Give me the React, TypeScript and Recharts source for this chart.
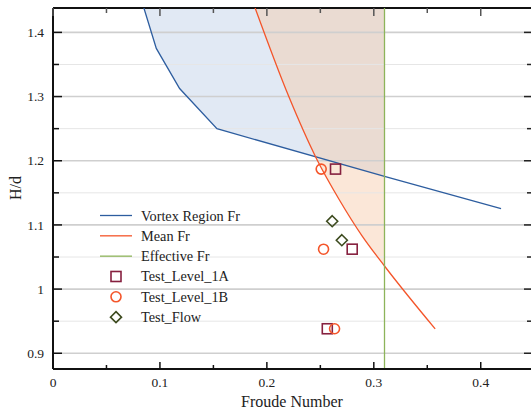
import { ComposedChart, Line, Area, Scatter, XAxis, YAxis, ReferenceLine, Legend } from 'recharts'

const X_MAX = 0.447
const Y_MIN = 0.8755
const Y_MAX = 1.438
const EFFECTIVE_FR = 0.31

const xTicks = [0, 0.05, 0.1, 0.15, 0.2, 0.25, 0.3, 0.35, 0.4]
const yTicks = [0.9, 0.95, 1, 1.05, 1.1, 1.15, 1.2, 1.25, 1.3, 1.35, 1.4]
const majorGrid = [0.9, 1, 1.1, 1.2, 1.3, 1.4]
const minorGrid = [0.95, 1.05, 1.15, 1.25, 1.35]

const vortexFr = [
  { x: 0.085, y: 1.438 },
  { x: 0.0966, y: 1.375 },
  { x: 0.1184, y: 1.3125 },
  { x: 0.1533, y: 1.25 },
  { x: 0.31, y: 1.1755 },
  { x: 0.419, y: 1.1255 },
]

const meanFr = [
  { x: 0.189, y: 1.438 },
  { x: 0.2205, y: 1.3 },
  { x: 0.2462, y: 1.204 },
  { x: 0.268, y: 1.1385 },
  { x: 0.289, y: 1.083 },
  { x: 0.31, y: 1.036 },
  { x: 0.3574, y: 0.938 },
]

const effectiveFr = [
  { x: EFFECTIVE_FR, y: Y_MIN },
  { x: EFFECTIVE_FR, y: Y_MAX },
]

const testLevel1A = [
  { x: 0.2642, y: 1.187 },
  { x: 0.2798, y: 1.0622 },
  { x: 0.2565, y: 0.9382 },
]
const testLevel1B = [
  { x: 0.2508, y: 1.187 },
  { x: 0.253, y: 1.0622 },
  { x: 0.2633, y: 0.9382 },
]
const testFlow = [
  { x: 0.2611, y: 1.1058 },
  { x: 0.2701, y: 1.0762 },
]

const vortexFill = vortexFr.filter((p) => p.x <= EFFECTIVE_FR)
const meanFill = meanFr.filter((p) => p.x <= EFFECTIVE_FR)

const BLUE = '#2d5d9f'
const ORANGE = '#f4552a'
const GREEN = '#8db45a'
const MAROON = '#86203f'
const OLIVE = '#3c4a1e'

const FONT = '"Liberation Serif", "DejaVu Serif", serif'
const PLOT_W = 478
const PLOT_H = 361

const isMajor = (v: number) => Math.abs(v * 10 - Math.round(v * 10)) < 1e-6
const fmt = (v: number) => String(Math.round(v * 100) / 100)

function XTick(props: any) {
  const { x, y, payload } = props
  const major = isMajor(payload.value)
  const len = major ? 7 : 4
  return (
    <g>
      <line x1={x} x2={x} y1={y} y2={y - len} stroke="#111" strokeWidth={1.5} />
      <line x1={x} x2={x} y1={y - PLOT_H} y2={y - PLOT_H + len + 1} stroke="#555" strokeWidth={1.5} />
      {major && (
        <text x={x} y={y + 17.5} textAnchor="middle" fontFamily={FONT} fontSize={13.5} fill="#222">
          {fmt(payload.value)}
        </text>
      )}
    </g>
  )
}

function YTick(props: any) {
  const { x, y, payload } = props
  const major = isMajor(payload.value)
  const len = major ? 9 : 6
  return (
    <g>
      <line x1={x} x2={x + len} y1={y} y2={y} stroke="#111" strokeWidth={1.5} />
      <line x1={x + PLOT_W} x2={x + PLOT_W - len + 2} y1={y} y2={y} stroke="#222" strokeWidth={1.5} />
      {major && (
        <text x={x - 9} y={y} dy="0.35em" textAnchor="end" fontFamily={FONT} fontSize={13.5} fill="#222">
          {fmt(payload.value)}
        </text>
      )}
    </g>
  )
}

const SquareMark = ({ cx, cy, color }: any) => (
  <rect x={cx - 5} y={cy - 5} width={10} height={10} fill="none" stroke={color} strokeWidth={1.6} />
)
const CircleMark = ({ cx, cy, color }: any) => (
  <circle cx={cx} cy={cy} r={5} fill="none" stroke={color} strokeWidth={1.6} />
)
const DiamondMark = ({ cx, cy, color }: any) => (
  <path d={`M${cx},${cy - 5.5}L${cx + 5.5},${cy}L${cx},${cy + 5.5}L${cx - 5.5},${cy}Z`} fill="none" stroke={color} strokeWidth={1.6} />
)

const legendItems = [
  { name: 'Vortex Region Fr', kind: 'line', color: BLUE },
  { name: 'Mean Fr', kind: 'line', color: ORANGE },
  { name: 'Effective Fr', kind: 'line', color: GREEN },
  { name: 'Test_Level_1A', kind: 'square', color: MAROON },
  { name: 'Test_Level_1B', kind: 'circle', color: ORANGE },
  { name: 'Test_Flow', kind: 'diamond', color: OLIVE },
]

function renderLegend() {
  return (
    <svg width={170} height={126}>
      {legendItems.map((it, i) => {
        const cy = 10.5 + i * 20.33
        return (
          <g key={it.name}>
            {it.kind === 'line' && <line x1={5} x2={37} y1={cy} y2={cy} stroke={it.color} strokeWidth={1.3} />}
            {it.kind === 'square' && <SquareMark cx={21} cy={cy} color={it.color} />}
            {it.kind === 'circle' && <CircleMark cx={21} cy={cy} color={it.color} />}
            {it.kind === 'diamond' && <DiamondMark cx={21} cy={cy} color={it.color} />}
            <text x={46} y={cy} dy="0.35em" fontFamily={FONT} fontSize={14.3} fill="#222">
              {it.name}
            </text>
          </g>
        )
      })}
    </svg>
  )
}

export default function App() {
  return (
    <div style={{ width: 531, height: 409, background: '#fff' }}>
      <style>{'body{margin:0}'}</style>
      <ComposedChart width={531} height={409} margin={{ top: 8, right: 0, bottom: 0, left: 0 }}>
        <XAxis
          type="number"
          dataKey="x"
          domain={[0, X_MAX]}
          ticks={xTicks}
          interval={0}
          allowDataOverflow
          height={40}
          tickSize={0}
          tickMargin={0}
          tickLine={false}
          tick={XTick}
          axisLine={{ stroke: '#111', strokeWidth: 2 }}
          label={{ value: 'Froude Number', position: 'insideBottom', offset: 2, fontFamily: FONT, fontSize: 16, fill: '#222' }}
        />
        <YAxis
          type="number"
          dataKey="y"
          domain={[Y_MIN, Y_MAX]}
          ticks={yTicks}
          interval={0}
          allowDataOverflow
          width={53}
          tickSize={0}
          tickMargin={0}
          tickLine={false}
          tick={YTick}
          axisLine={{ stroke: '#111', strokeWidth: 2 }}
          label={{
            content: () => (
              <text x={15} y={188} transform="rotate(-90 15 188)" textAnchor="middle" dy="0.35em" fontFamily={FONT} fontSize={16} fill="#222">
                H/d
              </text>
            ),
          }}
        />
        <Area data={vortexFill} dataKey="y" type="linear" baseValue="dataMax" fill="#5a87c4" fillOpacity={0.18} stroke="none" isAnimationActive={false} legendType="none" />
        <Area data={meanFill} dataKey="y" type="monotone" baseValue="dataMax" fill="#f6c9a8" fillOpacity={0.45} stroke="none" isAnimationActive={false} legendType="none" />
        {minorGrid.map((v) => (
          <ReferenceLine key={'m' + v} y={v} stroke="#e6e6e6" strokeWidth={1} />
        ))}
        {majorGrid.map((v) => (
          <ReferenceLine key={'M' + v} y={v} stroke="#cfcfcf" strokeWidth={1.6} />
        ))}
        <ReferenceLine y={Y_MAX} stroke="#111" strokeWidth={2} />
        <Line data={vortexFr} dataKey="y" type="linear" stroke={BLUE} strokeWidth={1.3} dot={false} isAnimationActive={false} name="Vortex Region Fr" />
        <Line data={meanFr} dataKey="y" type="monotone" stroke={ORANGE} strokeWidth={1.3} dot={false} isAnimationActive={false} name="Mean Fr" />
        <Line data={effectiveFr} dataKey="y" type="linear" stroke={GREEN} strokeWidth={1.3} dot={false} isAnimationActive={false} name="Effective Fr" />
        <Scatter data={testLevel1A} dataKey="y" shape={(p: any) => <SquareMark {...p} color={MAROON} />} isAnimationActive={false} name="Test_Level_1A" />
        <Scatter data={testLevel1B} dataKey="y" shape={(p: any) => <CircleMark {...p} color={ORANGE} />} isAnimationActive={false} name="Test_Level_1B" />
        <Scatter data={testFlow} dataKey="y" shape={(p: any) => <DiamondMark {...p} color={OLIVE} />} isAnimationActive={false} name="Test_Flow" />
        <Legend
          layout="vertical"
          align="center"
          verticalAlign="middle"
          wrapperStyle={{ left: 95, top: 205, width: 170, height: 126, right: 'auto', bottom: 'auto' }}
          content={renderLegend}
        />
      </ComposedChart>
    </div>
  )
}
